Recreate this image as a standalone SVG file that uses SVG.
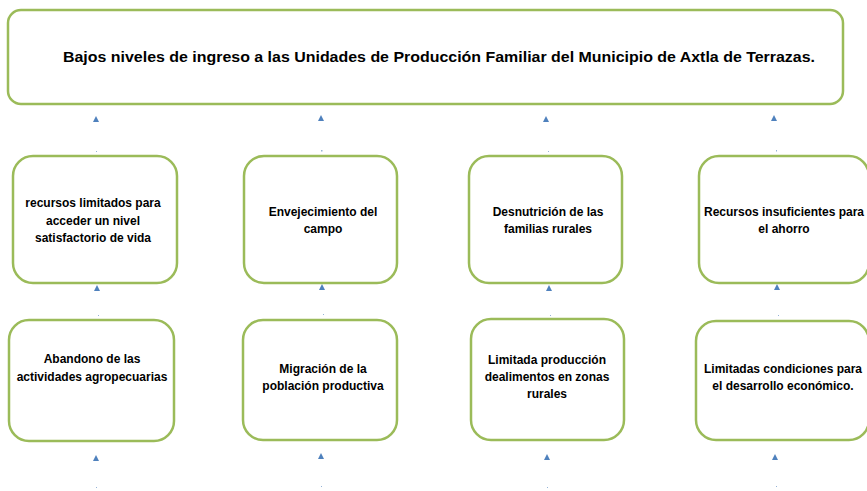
<svg xmlns="http://www.w3.org/2000/svg" width="867" height="491" viewBox="0 0 867 491">
<defs>
<style>
.box{fill:#fff;stroke:#9BBB59;stroke-width:2.5}
.t{font-family:"Liberation Sans",Arial,sans-serif;font-weight:bold;font-size:12px;fill:#000;text-anchor:middle}
.title{font-family:"Liberation Sans",Arial,sans-serif;font-weight:bold;font-size:15px;fill:#000}
.ah{fill:#4F81BD}
.dot{fill:#4F81BD;opacity:0.6}
</style>
<path id="tri" d="M-3,3 L3,3 L0,-3 Z"/>
</defs>
<rect width="867" height="491" fill="#fff"/>
<g id="connectors">
<use href="#tri" class="ah" x="96" y="119"/>
<use href="#tri" class="ah" x="321" y="118"/>
<use href="#tri" class="ah" x="546" y="119"/>
<use href="#tri" class="ah" x="774" y="118"/>
<rect class="dot" x="96" y="151" width="1" height="1"/>
<rect class="dot" x="321" y="150" width="1.5" height="1.5"/>
<rect class="dot" x="548" y="151" width="1" height="1"/>
<rect class="dot" x="776" y="150" width="1" height="1.5"/>
<use href="#tri" class="ah" x="97" y="288"/>
<use href="#tri" class="ah" x="322" y="287"/>
<use href="#tri" class="ah" x="549" y="288"/>
<use href="#tri" class="ah" x="777" y="287"/>
<rect class="dot" x="98" y="315" width="1" height="1"/>
<rect class="dot" x="323" y="314" width="1" height="1"/>
<rect class="dot" x="550" y="315" width="1" height="1"/>
<rect class="dot" x="778" y="315" width="1" height="1"/>
<use href="#tri" class="ah" x="96" y="458"/>
<use href="#tri" class="ah" x="321" y="456"/>
<use href="#tri" class="ah" x="547" y="457"/>
<use href="#tri" class="ah" x="775" y="457"/>
<rect class="dot" x="96" y="487" width="1" height="1"/>
<rect class="dot" x="321" y="486" width="1" height="1"/>
<rect class="dot" x="547" y="487" width="1" height="1"/>
<rect class="dot" x="776" y="486" width="1" height="1"/>
</g>
<g id="top">
<rect class="box" x="8" y="10" width="835" height="94" rx="13"/>
<text class="title" x="63" y="62" textLength="752" lengthAdjust="spacingAndGlyphs">Bajos niveles de ingreso a las Unidades de Producción Familiar del Municipio de Axtla de Terrazas.</text>
</g>
<g id="n1">
<rect class="box" x="13" y="156" width="164" height="127" rx="20"/>
<text class="t" x="93" y="207">recursos limitados para</text>
<text class="t" x="93" y="225">acceder un nivel</text>
<text class="t" x="93" y="242">satisfactorio de vida</text>
</g>
<g id="n2">
<rect class="box" x="244" y="156" width="153" height="127" rx="20"/>
<text class="t" x="323" y="216">Envejecimiento del</text>
<text class="t" x="323" y="233">campo</text>
</g>
<g id="n3">
<rect class="box" x="469" y="156" width="153" height="127" rx="20"/>
<text class="t" x="548" y="216">Desnutrición de las</text>
<text class="t" x="548" y="233">familias rurales</text>
</g>
<g id="n4">
<rect class="box" x="699" y="156" width="170" height="127" rx="20"/>
<text class="t" x="784" y="216">Recursos insuficientes para</text>
<text class="t" x="784" y="233">el ahorro</text>
</g>
<g id="n5">
<rect class="box" x="9" y="320" width="165" height="121" rx="20"/>
<text class="t" x="92" y="363">Abandono de las</text>
<text class="t" x="92" y="381">actividades agropecuarias</text>
</g>
<g id="n6">
<rect class="box" x="243" y="320" width="154" height="120" rx="20"/>
<text class="t" x="323" y="373">Migración de la</text>
<text class="t" x="323" y="390">población productiva</text>
</g>
<g id="n7">
<rect class="box" x="471" y="319" width="153" height="121" rx="20"/>
<text class="t" x="547" y="364">Limitada producción</text>
<text class="t" x="547" y="381">dealimentos en zonas</text>
<text class="t" x="547" y="398">rurales</text>
</g>
<g id="n8">
<rect class="box" x="696" y="321" width="173" height="119" rx="20"/>
<text class="t" x="783" y="373">Limitadas condiciones para</text>
<text class="t" x="783" y="390">el desarrollo económico.</text>
</g>
</svg>
